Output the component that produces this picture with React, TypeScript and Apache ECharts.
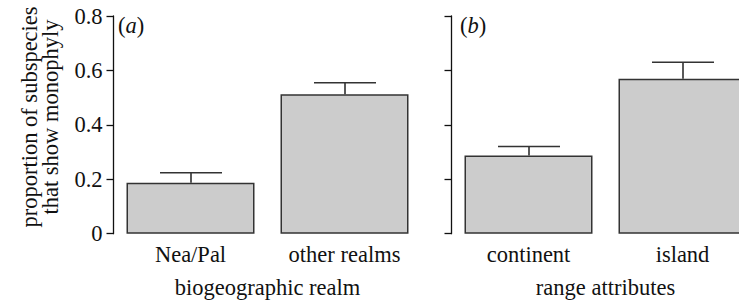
import React, { useEffect, useRef } from "react";
import * as echarts from "echarts";

const realmCategories = ["Nea/Pal", "other realms"];
const realmValues = [0.187, 0.512];
const realmUpper = [0.224, 0.555];

const rangeCategories = ["continent", "island"];
const rangeValues = [0.287, 0.569];
const rangeUpper = [0.32, 0.63];

const yTicks = [0, 0.2, 0.4, 0.6, 0.8];

const FONT = "Liberation Serif";
const FS = 22.5;

function errorSeries(idx: number, vals: number[], ups: number[]) {
  return {
    type: "custom",
    xAxisIndex: idx,
    yAxisIndex: idx,
    z: 5,
    data: vals.map((v, i) => [i, v, ups[i]]),
    renderItem: (params: any, api: any) => {
      const x = api.value(0);
      const base = api.coord([x, api.value(1)]);
      const top = api.coord([x, api.value(2)]);
      const half = 31;
      const cx = Math.round(base[0]);
      return {
        type: "group",
        children: [
          {
            type: "line",
            shape: { x1: cx, y1: base[1], x2: cx, y2: top[1] },
            style: { stroke: "#222", lineWidth: 1.5 },
          },
          {
            type: "line",
            shape: { x1: cx - half, y1: top[1], x2: cx + half, y2: top[1] },
            style: { stroke: "#333", lineWidth: 1.5 },
          },
        ],
      };
    },
  };
}

export default function App() {
  const ref = useRef<HTMLDivElement>(null);
  useEffect(() => {
    if (!ref.current) return;
    const chart = echarts.init(ref.current, null, { renderer: "svg" });
    const yAxisBase = (showLabels: boolean, gridIndex: number) => ({
      type: "value",
      gridIndex,
      min: 0,
      max: 0.8,
      interval: 0.2,
      splitLine: { show: false },
      axisLine: { show: true, lineStyle: { color: "#111", width: 1.3 } },
      axisTick: { show: true, inside: false, length: 7, lineStyle: { color: "#111", width: 1.3 } },
      axisLabel: {
        show: showLabels,
        margin: 11,
        padding: [5, 0, 0, 0],
        fontFamily: FONT,
        fontSize: FS,
        color: "#111",
        formatter: (v: number) => {
          const t = yTicks.find((k) => Math.abs(k - v) < 1e-9);
          return t === 0 ? "0" : String(t ?? v);
        },
      },
    });
    const xAxisBase = (cats: string[], name: string, gridIndex: number) => ({
      type: "category",
      gridIndex,
      data: cats,
      axisLine: { show: false },
      axisTick: { show: false },
      axisLabel: { margin: 9, fontFamily: FONT, fontSize: FS, color: "#111" },
      name,
      nameLocation: "middle",
      nameGap: 42,
      nameTextStyle: { fontFamily: FONT, fontSize: FS, color: "#111" },
    });
    chart.setOption({
      animation: false,
      backgroundColor: "#ffffff",
      grid: [
        { left: 113.5, top: 16, width: 308, height: 217.7, containLabel: false, outerBoundsMode: "none" },
        { left: 451.5, top: 16, width: 308, height: 217.7, containLabel: false, outerBoundsMode: "none" },
      ],
      xAxis: [
        xAxisBase(realmCategories, "biogeographic realm", 0),
        xAxisBase(rangeCategories, "range attributes", 1),
      ],
      yAxis: [yAxisBase(true, 0), yAxisBase(false, 1)],
      series: [
        {
          type: "bar",
          xAxisIndex: 0,
          yAxisIndex: 0,
          data: realmValues,
          barWidth: 128,
          itemStyle: { color: "#cccccc", borderColor: "#333", borderWidth: 1.5 },
        },
        errorSeries(0, realmValues, realmUpper),
        {
          type: "bar",
          xAxisIndex: 1,
          yAxisIndex: 1,
          data: rangeValues,
          barWidth: 128,
          itemStyle: { color: "#cccccc", borderColor: "#333", borderWidth: 1.5 },
        },
        errorSeries(1, rangeValues, rangeUpper),
      ],
      graphic: [
        {
          type: "text",
          x: 40,
          y: 117,
          rotation: Math.PI / 2,
          style: {
            text: "proportion of subspecies\nthat show monophyly",
            font: `${FS}px ${FONT}`,
            fill: "#111",
            align: "center",
            verticalAlign: "middle",
            lineHeight: 20.5,
          },
        },
        {
          type: "text",
          x: 118,
          y: 25,
          style: {
            text: "({i|a})",
            font: `${FS}px ${FONT}`,
            fill: "#111",
            verticalAlign: "middle",
            rich: { i: { fontStyle: "italic", fontFamily: FONT, fontSize: FS, fill: "#111" } },
          },
        },
        {
          type: "text",
          x: 460,
          y: 25,
          style: {
            text: "({i|b})",
            font: `${FS}px ${FONT}`,
            fill: "#111",
            verticalAlign: "middle",
            rich: { i: { fontStyle: "italic", fontFamily: FONT, fontSize: FS, fill: "#111" } },
          },
        },
      ],
    });
    return () => chart.dispose();
  }, []);
  return (
    <div
      ref={ref}
      style={{ position: "fixed", left: 0, top: 0, width: 739, height: 302, background: "#fff", overflow: "hidden" }}
    />
  );
}
